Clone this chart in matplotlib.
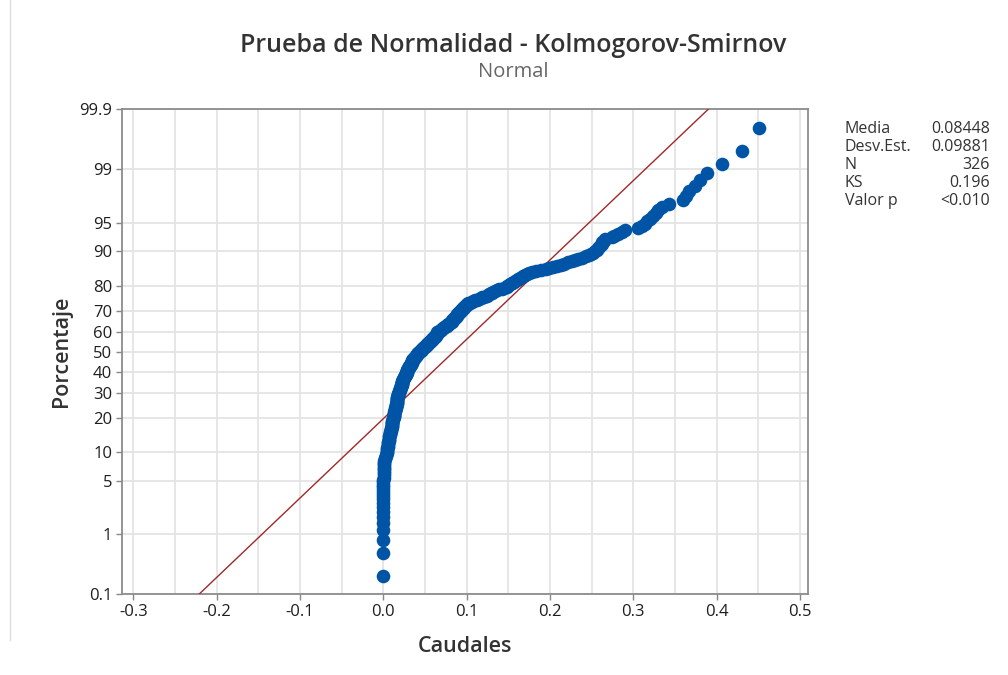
import numpy as np
import matplotlib
matplotlib.use("Agg")
import matplotlib.pyplot as plt
from matplotlib.lines import Line2D
from statistics import NormalDist

# ---------------- data ----------------
caudales = [
    0.000, 0.000, 0.000, 0.000, 0.000, 0.000, 0.000, 0.000, 0.000, 0.000,
    0.000, 0.000, 0.000, 0.000, 0.000, 0.000, 0.000,
    0.001, 0.001, 0.001, 0.001, 0.001, 0.001, 0.001, 0.001, 0.001, 0.001,
    0.002, 0.002, 0.003, 0.003, 0.004, 0.005,
    0.005, 0.005, 0.005, 0.006, 0.006, 0.006, 0.006, 0.006, 0.007, 0.007,
    0.007, 0.007, 0.007, 0.008, 0.008, 0.008, 0.008, 0.009, 0.009, 0.009,
    0.009, 0.010, 0.010, 0.010, 0.010, 0.011, 0.011, 0.011, 0.011, 0.012,
    0.012, 0.012, 0.013,
    0.013, 0.013, 0.013, 0.013, 0.013, 0.013, 0.014, 0.014, 0.014, 0.014,
    0.014, 0.015, 0.015, 0.015, 0.015, 0.015, 0.016, 0.016, 0.016, 0.016,
    0.016, 0.017, 0.017, 0.017, 0.017, 0.017, 0.018, 0.018, 0.018, 0.018,
    0.018, 0.019,
    0.019, 0.019, 0.019, 0.020, 0.020, 0.020, 0.020, 0.021, 0.021, 0.021,
    0.021, 0.022, 0.022, 0.022, 0.022, 0.023, 0.023, 0.023, 0.024, 0.024,
    0.024, 0.025, 0.025, 0.025, 0.026, 0.026, 0.026, 0.027, 0.027, 0.027,
    0.028, 0.028, 0.028,
    0.029, 0.029, 0.029, 0.030, 0.030, 0.031, 0.031, 0.031, 0.032, 0.032,
    0.033, 0.033, 0.033, 0.034, 0.034, 0.035, 0.035, 0.035, 0.036, 0.036,
    0.037, 0.037, 0.038, 0.038,
    0.039, 0.039, 0.040, 0.040, 0.041, 0.042, 0.042, 0.043,
    0.044, 0.045, 0.045, 0.046, 0.047, 0.048, 0.048, 0.049, 0.050, 0.051,
    0.051, 0.052, 0.053, 0.054, 0.054, 0.055, 0.056, 0.057, 0.057, 0.058,
    0.059, 0.060, 0.060, 0.061, 0.062,
    0.062, 0.063, 0.063, 0.064, 0.064, 0.065, 0.065, 0.066,
    0.067, 0.068, 0.069, 0.070, 0.071, 0.072, 0.073, 0.074, 0.075, 0.076,
    0.077, 0.078, 0.079, 0.080, 0.081, 0.082,
    0.083, 0.083, 0.084, 0.085, 0.085, 0.086, 0.087, 0.087, 0.088, 0.089,
    0.089, 0.090, 0.091, 0.091, 0.092, 0.093, 0.093,
    0.094, 0.095, 0.096, 0.097, 0.097, 0.098, 0.099, 0.100, 0.101, 0.102,
    0.104, 0.106, 0.108, 0.110, 0.112, 0.115,
    0.117, 0.119, 0.121, 0.124, 0.126,
    0.127, 0.129, 0.130, 0.132,
    0.134, 0.137, 0.139, 0.142, 0.145, 0.148,
    0.149, 0.151, 0.152, 0.154, 0.155, 0.157, 0.158, 0.160,
    0.162, 0.164, 0.166, 0.168, 0.170, 0.173, 0.175, 0.178,
    0.183, 0.189, 0.195,
    0.199, 0.204, 0.208, 0.213, 0.217, 0.222,
    0.226, 0.230, 0.234, 0.239, 0.243, 0.247,
    0.249, 0.252, 0.254,
    0.256, 0.258, 0.259, 0.261, 0.262, 0.263, 0.265,
    0.266, 0.274, 0.277, 0.282, 0.286, 0.290, 0.306, 0.310, 0.314, 0.317,
    0.320, 0.324, 0.327, 0.330, 0.334, 0.343, 0.360, 0.363, 0.367, 0.374,
    0.380, 0.389, 0.406, 0.431, 0.451,
]

media = 0.08448
desv_est = 0.09881

stat_labels = ["Media", "Desv.Est.", "N", "KS", "Valor p"]
stat_values = ["0.08448", "0.09881", "326", "0.196", "<0.010"]

y_ticks = [0.1, 1, 5, 10, 20, 30, 40, 50, 60, 70, 80, 90, 95, 99, 99.9]
y_ticklabels = ["0.1", "1", "5", "10", "20", "30", "40", "50", "60", "70",
                "80", "90", "95", "99", "99.9"]
x_ticks = [-0.3, -0.2, -0.1, 0.0, 0.1, 0.2, 0.3, 0.4, 0.5]
x_ticklabels = ["-0.3", "-0.2", "-0.1", "0.0", "0.1", "0.2", "0.3", "0.4", "0.5"]

titulo = "Prueba de Normalidad - Kolmogorov-Smirnov"
subtitulo = "Normal"
xlabel = "Caudales"
ylabel = "Porcentaje"

# ---------------- probability scale ----------------
_nd = NormalDist()
_ppf = np.vectorize(_nd.inv_cdf, otypes=[float])
_cdf = np.vectorize(_nd.cdf, otypes=[float])


def fwd(p):
    p = np.clip(np.asarray(p, dtype=float) / 100.0, 1e-9, 1 - 1e-9)
    return _ppf(p)


def inv(z):
    return _cdf(np.asarray(z, dtype=float)) * 100.0


plt.rcParams["font.family"] = ["Open Sans", "DejaVu Sans"]

fig = plt.figure(figsize=(10.08, 6.75), dpi=100)
fig.patch.set_facecolor("white")
ax = fig.add_axes([122 / 1008, (675 - 594) / 675, (808.3 - 122) / 1008, (594 - 109.3) / 675])
ax.set_yscale("function", functions=(fwd, inv))

x = np.sort(np.asarray(caudales, dtype=float))
n = len(x)
pct = (np.arange(1, n + 1) - 0.3) / (n + 0.4) * 100.0

# fitted normal line
z_ends = fwd([0.1, 99.9])
ax.plot(media + desv_est * z_ends, [0.1, 99.9], color="#A02828", lw=1.0, zorder=3)

ax.plot(x, pct, linestyle="none", marker="o", ms=9.8, mfc="#0054A6",
        mec="#0054A6", mew=0, zorder=4, clip_on=False)

ax.set_xlim(-0.3136, 0.510)
ax.set_ylim(0.1, 99.9)
ax.set_yticks(y_ticks)
ax.set_yticklabels(y_ticklabels)
ax.yaxis.set_minor_locator(matplotlib.ticker.NullLocator())
ax.set_xticks(x_ticks)
ax.set_xticklabels(x_ticklabels)
ax.set_xticks(np.arange(-0.3, 0.51, 0.05), minor=True)

ax.grid(True, which="major", color="#E4E4E4", lw=1.3, zorder=0)
ax.grid(True, which="minor", axis="x", color="#E4E4E4", lw=1.3, zorder=0)
ax.set_axisbelow(True)

ax.tick_params(axis="both", which="major", direction="out", length=4,
               width=1, color="#888888", labelsize=12, labelcolor="#1E1E1E", pad=3)
ax.tick_params(axis="x", which="minor", length=0)
for s in ax.spines.values():
    s.set_color("#8C8C8C")
    s.set_linewidth(1.3)

ax.set_xlabel(xlabel, fontsize=15.5, color="#333333", labelpad=12, fontweight="semibold")
ax.set_ylabel(ylabel, fontsize=15.5, color="#333333", labelpad=5, fontweight="semibold")

fig.text(513 / 1008, 1 - 45 / 675, titulo, ha="center", va="center",
         fontsize=18, color="#333333", fontweight="semibold")
fig.text(513 / 1008, 1 - 72 / 675, subtitulo, ha="center", va="center",
         fontsize=14.5, color="#666666")

row_y = [129, 147, 165, 183, 201]
for lab, val, yy in zip(stat_labels, stat_values, row_y):
    fig.text(845 / 1008, 1 - yy / 675, lab, ha="left", va="center",
             fontsize=11.5, color="#333333")
    fig.text(990 / 1008, 1 - yy / 675, val, ha="right", va="center",
             fontsize=11.5, color="#333333")

# window border line at the left
fig.add_artist(Line2D([10 / 1008, 10 / 1008], [1 - 640 / 675, 1.0],
                      transform=fig.transFigure, color="#DDDDDD", lw=1.0))

fig.savefig("out.png", dpi=100, facecolor="white")
